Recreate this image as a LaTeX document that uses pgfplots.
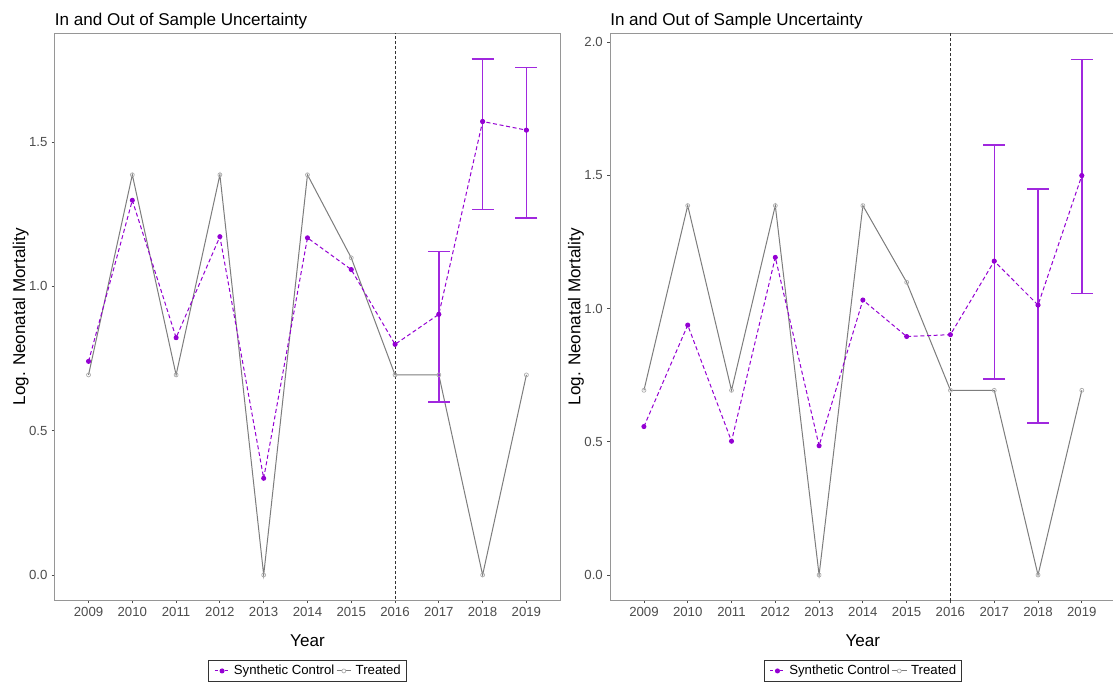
\documentclass[border=0pt]{standalone}
\usepackage{pgfplots}
\pgfplotsset{compat=1.18}
\usepackage{pgfplotstable}
\usepackage{fontspec}
\setmainfont{Liberation Sans}

\definecolor{synth}{RGB}{148,0,211}
\definecolor{synthbar}{RGB}{160,40,222}
\definecolor{treat}{RGB}{125,125,125}
\definecolor{treatmk}{RGB}{170,170,170}
\definecolor{framecol}{RGB}{150,150,150}
\definecolor{ticktxt}{RGB}{77,77,77}

% observed (treated) series, same in both panels
\pgfplotstableread{
year val
2009 0.6931
2010 1.3863
2011 0.6931
2012 1.3863
2013 0.0000
2014 1.3863
2015 1.0986
2016 0.6931
2017 0.6931
2018 0.0000
2019 0.6931
}\treated

% synthetic control, left panel
\pgfplotstableread{
year val
2009 0.740
2010 1.298
2011 0.822
2012 1.172
2013 0.335
2014 1.168
2015 1.058
2016 0.799
2017 0.903
2018 1.571
2019 1.541
}\synthA

\pgfplotstableread{
year val lo hi
2017 0.903 0.600 1.121
2018 1.571 1.266 1.788
2019 1.541 1.237 1.758
}\barsA

% synthetic control, right panel
\pgfplotstableread{
year val
2009 0.557
2010 0.938
2011 0.502
2012 1.192
2013 0.485
2014 1.032
2015 0.895
2016 0.902
2017 1.178
2018 1.013
2019 1.499
}\synthB

\pgfplotstableread{
year val lo hi
2017 1.178 0.736 1.613
2018 1.013 0.571 1.448
2019 1.499 1.057 1.934
}\barsB

\tikzset{cutline/.style={black!80, line width=0.6pt, dash pattern=on 2.25pt off 1.5pt}}

\pgfplotsset{
  panel/.style={
    scale only axis, width=379.3pt, height=425.25pt,
    anchor=south west,
    xmin=2008.225, xmax=2019.775,
    xtick={2009,...,2019},
    axis line style={framecol, line width=0.75pt},
    tick align=outside, tick pos=left,
    major tick length=2.2pt,
    tick style={black!70, line width=0.6pt},
    /pgf/number format/assume math mode=true,
    tick label style={font=\fontsize{9.9}{11}\selectfont, text=ticktxt},
    x tick label style={/pgf/number format/1000 sep={}, anchor=base, inner sep=0pt, yshift=-9.9pt},
    y tick label style={/pgf/number format/.cd, fixed, fixed zerofill, precision=1, /tikz/.cd, anchor=east, inner sep=0pt, xshift=-3pt},
    title={In and Out of Sample Uncertainty},
    title style={font=\fontsize{12.8}{14}\selectfont, at={(axis description cs:0,1.0134)}, anchor=base west, inner sep=0pt, yshift=-6pt},
    xlabel={Year},
    xlabel style={font=\fontsize{12.8}{14}\selectfont, at={(axis description cs:0.5,-0.0818)}, anchor=base, inner sep=0pt},
    ylabel={Log. Neonatal Mortality},
    ylabel style={font=\fontsize{12.8}{14}\selectfont, at={(axis description cs:-0.0585,0.5)}, anchor=base, inner sep=0pt},
    legend columns=2,
    legend style={at={(axis description cs:0.5,-0.1246)}, anchor=center,
      draw=black!80, line width=0.75pt, fill=white,
      inner xsep=4pt, inner ysep=3.7pt,
      font=\fontsize{9.9}{11}\selectfont,
      nodes={inner sep=0pt},
      /tikz/every odd column/.append style={column sep=3pt},
      /tikz/every even column/.append style={column sep=1.2pt}},
    legend cell align=left,
  },
  treatline/.style={treat, line width=0.75pt, mark=o, mark size=1.5pt,
    mark options={solid, draw=treatmk, line width=0.5pt}},
  synthline/.style={synth, line width=0.75pt, dash pattern=on 3pt off 2pt,
    mark=*, mark size=1.5pt, mark options={solid, fill=synth, draw=synth}},
  bars/.style={synth, only marks, mark=*, mark size=1.5pt, forget plot,
    error bars/.cd, y dir=both, y explicit,
    error bar style={draw=synthbar, line width=1.1pt, solid},
    error mark=|,
    error mark options={draw=synthbar, line width=1.1pt, mark size=8.2pt}},
  synthkey/.style={legend image code/.code={
    \draw[synth, line width=0.75pt, dash pattern=on 2.2pt off 1.5pt] (0pt,0pt) -- (11pt,0pt);
    \fill[synth] (5.5pt,0pt) circle[radius=1.5pt];}},
  treatkey/.style={legend image code/.code={
    \draw[treat, line width=0.75pt] (0pt,0pt) -- (11pt,0pt);
    \draw[treatmk, fill=white, line width=0.5pt] (5.5pt,0pt) circle[radius=1.5pt];}},
}

\begin{document}
\begin{tikzpicture}
\useasboundingbox (0pt,0pt) rectangle (834.75pt,515.25pt);
\fill[white] (0pt,0pt) rectangle (834.75pt,515.25pt);
\begin{scope}
\clip (0pt,0pt) rectangle (834.75pt,515.25pt);

% left panel
\begin{axis}[panel, at={(40.95pt,65.03pt)},
  ymin=-0.0877, ymax=1.8765, ytick={0,0.5,1,1.5}]
  \addlegendimage{synthkey}\addlegendentry{Synthetic Control}
  \addlegendimage{treatkey}\addlegendentry{Treated}
  \draw[cutline] (axis cs:2016,-1) -- (axis cs:2016,3);
  \addplot[treatline, forget plot] table[x=year, y=val] {\treated};
  \addplot[synthline, forget plot] table[x=year, y=val] {\synthA};
  \addplot[bars] table[x=year, y=val,
    y error plus expr=\thisrow{hi}-\thisrow{val},
    y error minus expr=\thisrow{val}-\thisrow{lo}] {\barsA};
\end{axis}

% right panel
\begin{axis}[panel, at={(457.5pt,65.03pt)},
  ymin=-0.095, ymax=2.033, ytick={0,0.5,1,1.5,2}]
  \addlegendimage{synthkey}\addlegendentry{Synthetic Control}
  \addlegendimage{treatkey}\addlegendentry{Treated}
  \draw[cutline] (axis cs:2016,-1) -- (axis cs:2016,3);
  \addplot[treatline, forget plot] table[x=year, y=val] {\treated};
  \addplot[synthline, forget plot] table[x=year, y=val] {\synthB};
  \addplot[bars] table[x=year, y=val,
    y error plus expr=\thisrow{hi}-\thisrow{val},
    y error minus expr=\thisrow{val}-\thisrow{lo}] {\barsB};
\end{axis}
\end{scope}
\end{tikzpicture}
\end{document}
